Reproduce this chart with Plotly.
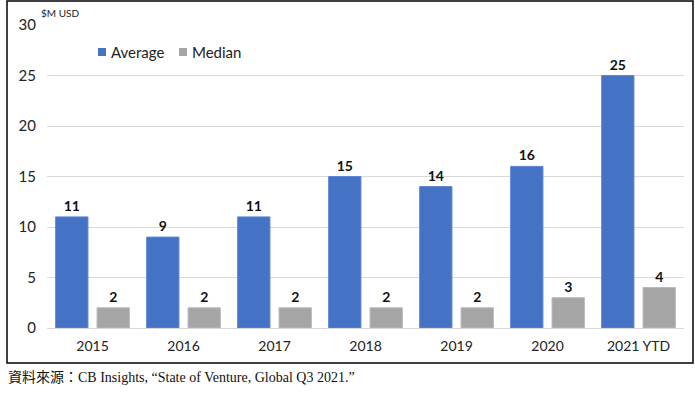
import plotly.graph_objects as go

categories = ["2015", "2016", "2017", "2018", "2019", "2020", "2021 YTD"]
average = [11, 9, 11, 15, 14, 16, 25]
median = [2, 2, 2, 2, 2, 3, 4]
y_ticks = [0, 5, 10, 15, 20, 25, 30]
series_names = ["Average", "Median"]
series_colors = ["#4472C4", "#A5A5A5"]

font_main = "Lato, 'Open Sans', sans-serif"

fig = go.Figure()
fig.add_trace(go.Bar(
    x=categories, y=average, name=series_names[0],
    marker=dict(color=series_colors[0], line=dict(color="#5B86D6", width=1)),
    text=[str(v) for v in average], textposition="outside",
    textfont=dict(family=font_main, size=14, color="#111111", weight="bold"),
    cliponaxis=False,
))
fig.add_trace(go.Bar(
    x=categories, y=median, name=series_names[1],
    marker=dict(color=series_colors[1], line=dict(color="#B8B8B8", width=1)),
    text=[str(v) for v in median], textposition="outside",
    textfont=dict(family=font_main, size=14, color="#111111", weight="bold"),
    cliponaxis=False,
))

L, R, T, B = 47, 11, 25, 66
W, H = 695, 394
pw, ph = W - L - R, H - T - B

def px_x(p):
    return (p - L) / pw

def px_y(p):
    return (H - B - p) / ph

shapes = [dict(type="rect", xref="paper", yref="paper",
               x0=px_x(7), x1=px_x(693), y0=px_y(363), y1=px_y(1),
               line=dict(color="black", width=1.5), fillcolor="rgba(0,0,0,0)", layer="below")]
annotations = [
    dict(text="$M USD", xref="paper", yref="paper", x=px_x(39), y=px_y(13),
         xanchor="left", yanchor="middle", showarrow=False,
         font=dict(size=10, color="#222222", family=font_main)),
    dict(text="資料來源：CB Insights, “State of Venture, Global Q3 2021.”",
         xref="paper", yref="paper", x=px_x(6), y=px_y(377),
         xanchor="left", yanchor="middle", showarrow=False,
         font=dict(size=14, color="#111111",
                   family="'Liberation Serif', 'Noto Sans CJK TC', serif")),
]
# manual legend
legend_x = [98, 179]
for name, color, lx in zip(series_names, series_colors, legend_x):
    shapes.append(dict(type="rect", xref="paper", yref="paper",
                       x0=px_x(lx), x1=px_x(lx + 8), y0=px_y(56), y1=px_y(48),
                       line=dict(width=0), fillcolor=color))
    annotations.append(dict(text=name, xref="paper", yref="paper", x=px_x(lx + 11), y=px_y(52),
                            xanchor="left", yanchor="middle", showarrow=False,
                            font=dict(size=15, color="#222222", family=font_main)))

fig.update_layout(
    width=W, height=H,
    margin=dict(l=L, r=R, t=T, b=B, autoexpand=False),
    paper_bgcolor="white", plot_bgcolor="white",
    barmode="group", bargap=0.09, bargroupgap=0.22,
    font=dict(family=font_main, size=14, color="#222222"),
    showlegend=False,
    xaxis=dict(showgrid=False, showline=False, ticks="", tickfont=dict(size=14, color="#222222"),
               ticklabelstandoff=8, automargin=False),
    yaxis=dict(range=[0, 30], tickvals=y_ticks, showgrid=True, gridcolor="#D9D9D9", gridwidth=1,
               zeroline=True, zerolinecolor="#D9D9D9", zerolinewidth=1,
               showline=False, ticks="", tickfont=dict(size=15, color="#222222"),
               ticklabelstandoff=10, automargin=False),
    shapes=shapes,
    annotations=annotations,
)

fig.write_html("out.html", config={"displayModeBar": False},
               post_script="document.body.style.margin='0';document.body.style.overflow='hidden';")
